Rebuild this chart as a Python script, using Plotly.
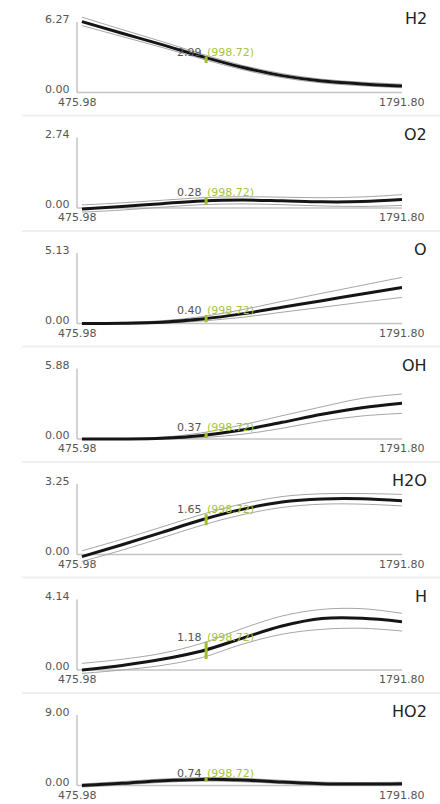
import plotly.graph_objects as go

# ---------------- data ----------------
species = ["H2", "O2", "O", "OH", "H2O", "H", "HO2"]
y_max = [6.27, 2.74, 5.13, 5.88, 3.25, 4.14, 9.00]
x_min_label = "475.98"
x_max_label = "1791.80"
x_axis_min = 475.98
x_axis_max = 1791.80

x_grid = [496, 658, 820, 982, 1144, 1306, 1468, 1630, 1791.8]

mean_H2 = [6.30, 5.27, 4.26, 3.20, 2.24, 1.50, 1.02, 0.76, 0.58]
upper_H2 = [6.70, 5.60, 4.53, 3.42, 2.42, 1.68, 1.18, 0.92, 0.74]
lower_H2 = [5.95, 4.98, 4.01, 2.99, 2.04, 1.32, 0.85, 0.60, 0.42]

mean_O2 = [-0.04, 0.06, 0.17, 0.27, 0.31, 0.28, 0.24, 0.25, 0.33]
upper_O2 = [0.12, 0.20, 0.30, 0.40, 0.44, 0.42, 0.40, 0.43, 0.52]
lower_O2 = [-0.16, -0.08, 0.03, 0.13, 0.16, 0.13, 0.08, 0.06, 0.10]

mean_O = [0.00, 0.02, 0.10, 0.33, 0.70, 1.18, 1.66, 2.15, 2.63]
upper_O = [0.05, 0.08, 0.20, 0.50, 1.00, 1.61, 2.20, 2.78, 3.36]
lower_O = [-0.05, -0.04, 0.02, 0.18, 0.45, 0.82, 1.18, 1.55, 1.90]

mean_OH = [0.00, 0.00, 0.06, 0.30, 0.75, 1.39, 2.06, 2.61, 2.98]
upper_OH = [0.03, 0.04, 0.15, 0.52, 1.17, 1.94, 2.69, 3.39, 3.75]
lower_OH = [-0.03, -0.03, 0.00, 0.12, 0.39, 0.89, 1.50, 1.92, 2.14]

mean_H2O = [-0.10, 0.45, 1.02, 1.60, 2.08, 2.42, 2.56, 2.57, 2.48]
upper_H2O = [0.17, 0.70, 1.27, 1.85, 2.33, 2.67, 2.80, 2.81, 2.77]
lower_H2O = [-0.32, 0.20, 0.77, 1.35, 1.83, 2.17, 2.32, 2.32, 2.24]

mean_H = [0.00, 0.27, 0.63, 1.12, 1.86, 2.58, 3.02, 3.04, 2.84]
upper_H = [0.39, 0.63, 0.98, 1.57, 2.43, 3.17, 3.56, 3.60, 3.33]
lower_H = [-0.20, 0.00, 0.27, 0.73, 1.51, 2.10, 2.39, 2.45, 2.29]

mean_HO2 = [0.00, 0.28, 0.61, 0.78, 0.70, 0.45, 0.23, 0.19, 0.23]
upper_HO2 = [0.20, 0.50, 0.83, 1.00, 0.92, 0.66, 0.43, 0.38, 0.42]
lower_HO2 = [-0.20, 0.07, 0.40, 0.57, 0.48, 0.24, 0.03, 0.00, 0.04]

means = [mean_H2, mean_O2, mean_O, mean_OH, mean_H2O, mean_H, mean_HO2]
uppers = [upper_H2, upper_O2, upper_O, upper_OH, upper_H2O, upper_H, upper_HO2]
lowers = [lower_H2, lower_O2, lower_O, lower_OH, lower_H2O, lower_H, lower_HO2]

marker_x = 998.72
marker_x_label = "(998.72)"
marker_values = ["2.99", "0.28", "0.40", "0.37", "1.65", "1.18", "0.74"]
marker_lo = [2.62, 0.12, 0.10, 0.08, 1.35, 0.64, 0.50]
marker_hi = [3.20, 0.42, 0.62, 0.55, 1.85, 1.64, 0.95]

# ---------------- layout geometry (pixels) ----------------
W, H = 440, 804
PANEL_H = 115.5
X_LEFT_PX, X_RIGHT_PX = 77, 402
TOP_OFF, ZERO_OFF = 22, 92.5
PAD_TOP, PAD_BOT = 12, 10

FONT = "DejaVu Sans, Verdana, sans-serif"
GRAY_TXT = "#555555"
GREEN = "#9fbf2a"
GREEN_TXT = "#a8c43c"
AXIS_C = "#c4c4c4"

fig = go.Figure()
layout = dict(
    width=W, height=H,
    margin=dict(l=0, r=0, t=0, b=0),
    paper_bgcolor="white", plot_bgcolor="white",
    showlegend=False,
)
annotations = []
shapes = []

for i, sp in enumerate(species):
    n = i + 1
    xa = "x" if n == 1 else f"x{n}"
    ya = "y" if n == 1 else f"y{n}"
    o = PANEL_H * i
    ymax = y_max[i]
    ppu = (ZERO_OFF - TOP_OFF) / ymax
    dom_top = o + TOP_OFF - PAD_TOP
    dom_bot = o + ZERO_OFF + PAD_BOT
    yr = [-PAD_BOT / ppu, ymax + PAD_TOP / ppu]

    layout["xaxis" if n == 1 else f"xaxis{n}"] = dict(
        domain=[X_LEFT_PX / W, X_RIGHT_PX / W],
        range=[x_axis_min, x_axis_max],
        anchor=ya, visible=False, fixedrange=True,
    )
    layout["yaxis" if n == 1 else f"yaxis{n}"] = dict(
        domain=[1 - dom_bot / H, 1 - dom_top / H],
        range=yr, anchor=xa, visible=False, fixedrange=True,
    )

    for band in (uppers[i], lowers[i]):
        fig.add_trace(go.Scatter(
            x=x_grid, y=band, mode="lines", xaxis=xa, yaxis=ya,
            line=dict(color="#a6a6a6", width=1, shape="spline"),
            hoverinfo="skip",
        ))
    fig.add_trace(go.Scatter(
        x=x_grid, y=means[i], mode="lines", xaxis=xa, yaxis=ya,
        line=dict(color="#151515", width=3, shape="spline"),
        hoverinfo="skip",
    ))
    fig.add_trace(go.Scatter(
        x=[marker_x, marker_x], y=[marker_lo[i], marker_hi[i]], mode="lines",
        xaxis=xa, yaxis=ya, line=dict(color=GREEN, width=3),
        hoverinfo="skip",
    ))

    xd = f"{xa} domain"
    shapes.append(dict(type="line", xref=xd, yref=ya, x0=0, x1=0, y0=0, y1=ymax,
                       line=dict(color=AXIS_C, width=1.5), layer="below"))
    shapes.append(dict(type="line", xref=xd, yref=ya, x0=0, x1=1, y0=0, y1=0,
                       line=dict(color=AXIS_C, width=1.5), layer="below"))

    annotations.append(dict(xref=xd, yref=ya, x=0, y=ymax, text=f"{ymax:.2f}",
                            xanchor="right", yanchor="middle", xshift=-5, yshift=3,
                            showarrow=False, font=dict(family=FONT, size=11, color=GRAY_TXT)))
    annotations.append(dict(xref=xd, yref=ya, x=0, y=0, text="0.00",
                            xanchor="right", yanchor="middle", xshift=-5, yshift=3.5,
                            showarrow=False, font=dict(family=FONT, size=11, color=GRAY_TXT)))
    annotations.append(dict(xref=xd, yref=ya, x=0, y=0, text=x_min_label,
                            xanchor="center", yanchor="middle", yshift=-9.5,
                            showarrow=False, font=dict(family=FONT, size=11, color=GRAY_TXT)))
    annotations.append(dict(xref=xd, yref=ya, x=1, y=0, text=x_max_label,
                            xanchor="center", yanchor="middle", yshift=-9.5,
                            showarrow=False, font=dict(family=FONT, size=11, color=GRAY_TXT)))
    annotations.append(dict(xref=xd, yref=ya, x=1, y=ymax, text=sp,
                            xanchor="right", yanchor="middle", xshift=27, yshift=3.5,
                            showarrow=False, font=dict(family=FONT, size=16, color="#222222")))
    annotations.append(dict(xref=xa, yref=ya, x=marker_x, y=marker_hi[i], text=marker_values[i],
                            xanchor="right", yanchor="middle", xshift=-2, yshift=4.5,
                            showarrow=False, font=dict(family=FONT, size=11, color=GRAY_TXT)))
    annotations.append(dict(xref=xa, yref=ya, x=marker_x, y=marker_hi[i], text=marker_x_label,
                            xanchor="left", yanchor="middle", xshift=-1, yshift=4.5,
                            showarrow=False, font=dict(family=FONT, size=11, color=GREEN_TXT)))

    if i < len(species) - 1:
        ysep = 1 - (PANEL_H * (i + 1)) / H
        shapes.append(dict(type="line", xref="paper", yref="paper", x0=22 / W, x1=1,
                           y0=ysep, y1=ysep, line=dict(color="#efefef", width=2), layer="below"))

layout["annotations"] = annotations
layout["shapes"] = shapes
fig.update_layout(**layout)

page_css = ("document.body.style.margin='0';document.body.style.padding='0';"
            "document.body.style.overflow='hidden';"
            "document.documentElement.style.overflow='hidden';")
fig.write_html("out.html", post_script=page_css, config={"displayModeBar": False})
